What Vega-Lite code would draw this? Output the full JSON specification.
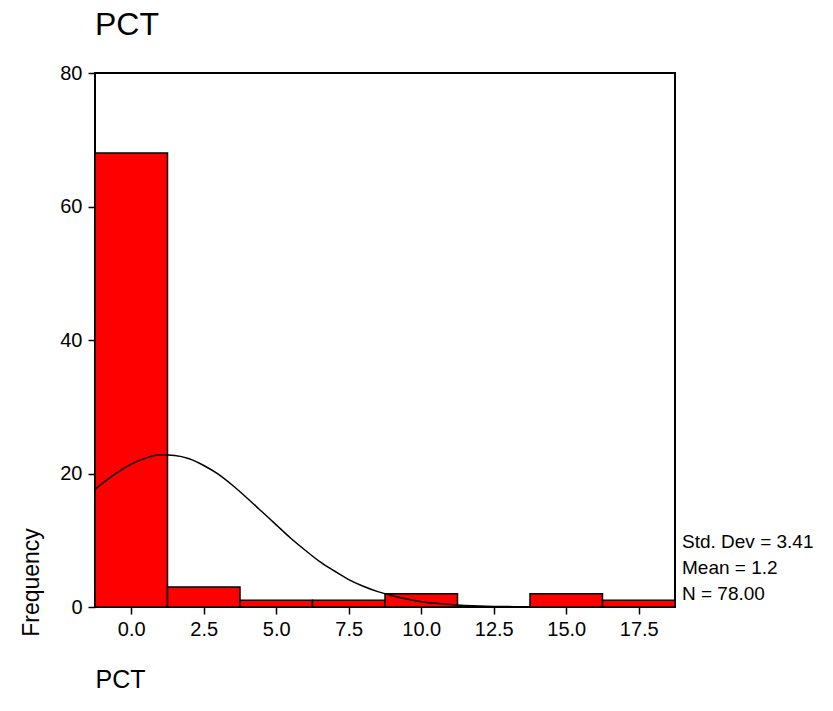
{
  "$schema": "https://vega.github.io/schema/vega-lite/v6.json",
  "autosize": {"type": "none"},
  "width": 580,
  "height": 534,
  "padding": {"left": 95, "top": 73, "right": 158, "bottom": 104},
  "background": "white",
  "config": {
    "font": "Liberation Sans",
    "view": {"stroke": "black", "strokeWidth": 2},
    "axis": {"grid": false, "domain": false, "labelColor": "black", "tickColor": "black", "labelFont": "Liberation Sans", "titleFont": "Liberation Sans", "titleColor": "black", "titleFontWeight": "normal"}
  },
  "title": {"text": "PCT", "anchor": "start", "frame": "group", "fontSize": 32, "fontWeight": "normal", "color": "black", "font": "Liberation Sans", "baseline": "alphabetic", "offset": -4},
  "layer": [
    {
      "data": {"values": [
        {"bin_start": -1.25, "bin_end": 1.25, "count": 68},
        {"bin_start": 1.25, "bin_end": 3.75, "count": 3},
        {"bin_start": 3.75, "bin_end": 6.25, "count": 1},
        {"bin_start": 6.25, "bin_end": 8.75, "count": 1},
        {"bin_start": 8.75, "bin_end": 11.25, "count": 2},
        {"bin_start": 13.75, "bin_end": 16.25, "count": 2},
        {"bin_start": 16.25, "bin_end": 18.75, "count": 1}
      ]},
      "mark": {"type": "bar", "color": "#ff0000", "stroke": "black", "strokeWidth": 1.5},
      "encoding": {
        "x": {"field": "bin_start", "type": "quantitative", "scale": {"domain": [-1.25, 18.75], "nice": false, "zero": false},
          "axis": {"values": [0, 2.5, 5, 7.5, 10, 12.5, 15, 17.5], "format": ".1f", "labelFontSize": 20, "tickSize": 7, "tickWidth": 1.5, "labelPadding": 5,
            "title": "PCT", "titleFontSize": 25, "titleAnchor": "start", "titleAlign": "left", "titleBaseline": "alphabetic", "titleX": 0, "titleY": 80}},
        "x2": {"field": "bin_end"},
        "y": {"field": "count", "type": "quantitative", "scale": {"domain": [0, 80], "nice": false},
          "axis": {"values": [0, 20, 40, 60, 80], "labelFontSize": 20, "tickSize": 7, "tickWidth": 1.5, "labelPadding": 6,
            "title": "Frequency", "titleFontSize": 23, "titleAngle": 270, "titleAlign": "center", "titleBaseline": "middle", "titleX": -64, "titleY": 509}},
        "y2": {"datum": 0}
      }
    },
    {
      "data": {"values": [
        {"pct": -1.25, "freq": 17.6},
        {"pct": -1.0, "freq": 18.5},
        {"pct": -0.5, "freq": 20.1},
        {"pct": 0.0, "freq": 21.4},
        {"pct": 0.5, "freq": 22.3},
        {"pct": 1.0, "freq": 22.8},
        {"pct": 1.5, "freq": 22.7},
        {"pct": 2.0, "freq": 22.2},
        {"pct": 2.5, "freq": 21.2},
        {"pct": 3.0, "freq": 19.9},
        {"pct": 3.5, "freq": 18.2},
        {"pct": 4.0, "freq": 16.3},
        {"pct": 4.5, "freq": 14.3},
        {"pct": 5.0, "freq": 12.3},
        {"pct": 5.5, "freq": 10.3},
        {"pct": 6.0, "freq": 8.5},
        {"pct": 6.5, "freq": 6.8},
        {"pct": 7.0, "freq": 5.4},
        {"pct": 7.5, "freq": 4.1},
        {"pct": 8.0, "freq": 3.1},
        {"pct": 8.5, "freq": 2.3},
        {"pct": 9.0, "freq": 1.7},
        {"pct": 9.5, "freq": 1.2},
        {"pct": 10.0, "freq": 0.8},
        {"pct": 10.5, "freq": 0.55},
        {"pct": 11.0, "freq": 0.37},
        {"pct": 11.5, "freq": 0.24},
        {"pct": 12.0, "freq": 0.15},
        {"pct": 12.5, "freq": 0.09},
        {"pct": 13.0, "freq": 0.06},
        {"pct": 13.4, "freq": 0.04}
      ]},
      "mark": {"type": "line", "color": "black", "strokeWidth": 1.5, "interpolate": "monotone"},
      "encoding": {
        "x": {"field": "pct", "type": "quantitative"},
        "y": {"field": "freq", "type": "quantitative"}
      }
    },
    {
      "data": {"values": [{"stats": "summary"}]},
      "mark": {"type": "text", "align": "left", "baseline": "alphabetic", "fontSize": 19, "color": "black", "lineHeight": 26, "dx": 7, "dy": -59, "font": "Liberation Sans"},
      "encoding": {
        "x": {"datum": 18.75, "type": "quantitative"},
        "y": {"datum": 0, "type": "quantitative"},
        "text": {"value": ["Std. Dev = 3.41", "Mean = 1.2", "N = 78.00"]}
      }
    }
  ]
}
